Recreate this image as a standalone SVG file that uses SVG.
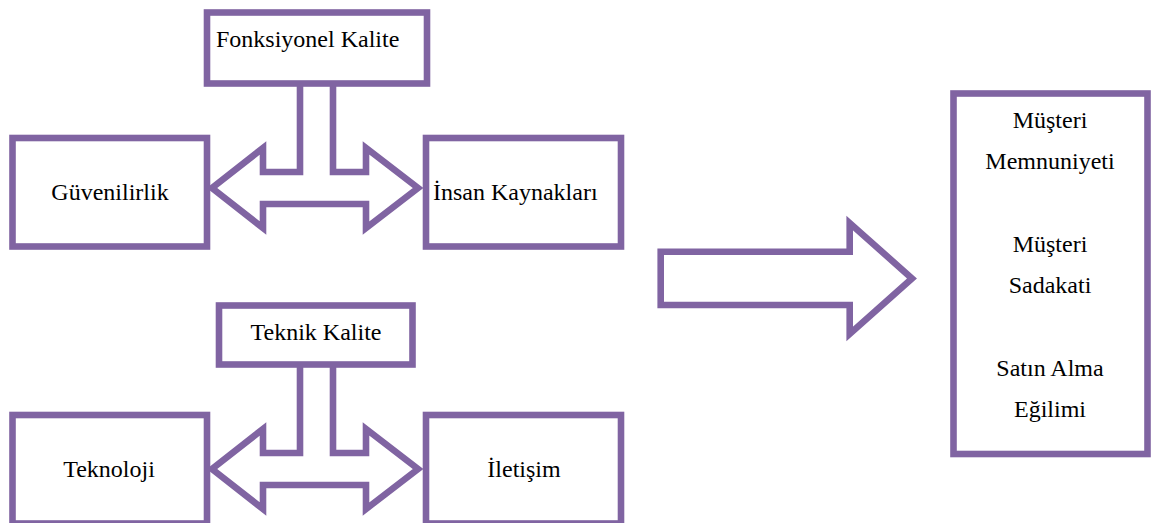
<svg xmlns="http://www.w3.org/2000/svg" width="1151" height="523" viewBox="0 0 1151 523">
  <style>
    .box { fill: #ffffff; stroke: #8064A2; stroke-width: 6.6; }
    .conn { fill: #ffffff; stroke: #8064A2; stroke-width: 6.6; stroke-linejoin: miter; stroke-miterlimit: 10; }
    .lbl { font-family: "Liberation Serif", "Times New Roman", serif; font-size: 24px; fill: #000000; }
    .mid { text-anchor: middle; }
  </style>
  <rect width="1151" height="523" fill="#ffffff"/>
  <g id="connectors">
    <path class="conn" d="M 300,83 V 172 H 263 V 148 L 212,188 L 263,228 V 204 H 366 V 228 L 418,188 L 366,148 V 172 H 333 V 83"/>
    <path class="conn" d="M 300,364.5 V 453 H 263 V 429 L 212,469 L 263,509 V 485 H 366 V 509 L 418,469 L 366,429 V 453 H 333 V 364.5"/>
    <path class="conn" d="M 660.7,251.7 H 849.7 V 223 L 912,278.5 L 849.7,334 V 305 H 660.7 Z"/>
  </g>
  <g id="fonksiyonel-kalite">
    <rect class="box" x="207" y="12.5" width="220" height="71"/>
    <text class="lbl" x="216" y="47">Fonksiyonel Kalite</text>
  </g>
  <g id="guvenilirlik">
    <rect class="box" x="12.5" y="138" width="194.5" height="108.5"/>
    <text class="lbl mid" x="110" y="200">Güvenilirlik</text>
  </g>
  <g id="insan-kaynaklari">
    <rect class="box" x="426" y="138" width="195" height="108.5"/>
    <text class="lbl" x="433" y="200">İnsan Kaynakları</text>
  </g>
  <g id="teknik-kalite">
    <rect class="box" x="219" y="305.5" width="193.5" height="59"/>
    <text class="lbl mid" x="316" y="340">Teknik Kalite</text>
  </g>
  <g id="teknoloji">
    <rect class="box" x="12.5" y="415" width="194.5" height="108.5"/>
    <text class="lbl mid" x="109" y="477">Teknoloji</text>
  </g>
  <g id="iletisim">
    <rect class="box" x="426" y="415" width="195" height="108.5"/>
    <text class="lbl mid" x="524" y="477">İletişim</text>
  </g>
  <g id="sonuclar">
    <rect class="box" x="953.5" y="93.5" width="194" height="360.5"/>
    <text class="lbl mid" x="1050" y="128">Müşteri</text>
    <text class="lbl mid" x="1050" y="169">Memnuniyeti</text>
    <text class="lbl mid" x="1050" y="252">Müşteri</text>
    <text class="lbl mid" x="1050" y="293">Sadakati</text>
    <text class="lbl mid" x="1050" y="376">Satın Alma</text>
    <text class="lbl mid" x="1050" y="417">Eğilimi</text>
  </g>
</svg>
